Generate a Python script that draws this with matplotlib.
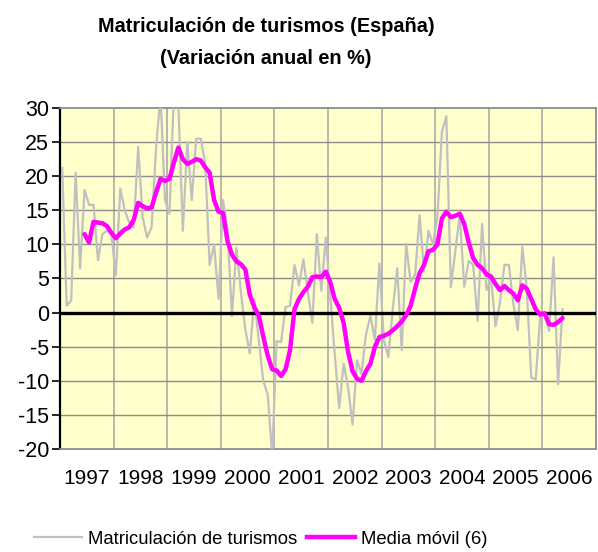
import matplotlib
matplotlib.use('Agg')
import matplotlib.pyplot as plt
import matplotlib.transforms as mtransforms
from matplotlib.lines import Line2D
import numpy as np

plt.rcParams['font.family'] = ['Liberation Sans', 'DejaVu Sans']

# ---------------- data ----------------
years = ['1997', '1998', '1999', '2000', '2001', '2002', '2003', '2004', '2005', '2006']

# Monthly annual variation (%), Jan 1997 .. May 2006
matriculacion = [
    21.2, 1.0, 1.8, 20.5, 6.5, 18.0, 15.8, 15.8, 7.7, 11.5, 12.0, 11.5,      # 1997
    5.5, 18.2, 15.0, 13.2, 12.5, 24.3, 14.0, 11.0, 12.5, 24.0, 32.0, 16.5,   # 1998
    14.5, 32.0, 30.5, 12.0, 25.0, 16.5, 25.5, 25.5, 22.0, 7.0, 10.0, 2.0,    # 1999
    16.5, 12.0, -0.5, 9.5, 3.0, -2.5, -6.0, 2.0, -4.0, -10.0, -12.0, -21.0,  # 2000
    -4.2, -4.3, 0.8, 1.0, 7.0, 4.0, 7.8, 3.0, -1.5, 11.5, 3.2, 11.0,         # 2001
    2.5, -6.0, -14.0, -7.5, -11.0, -16.4, -7.0, -9.0, -3.2, -0.5, -4.0, 7.2, # 2002
    -4.0, -6.5, 0.5, 6.5, -5.5, 10.1, 4.5, 5.5, 14.3, 6.0, 12.0, 10.0,       # 2003
    14.0, 26.5, 28.8, 3.7, 9.0, 14.3, 3.8, 7.6, 7.0, -1.2, 13.0, 3.3,        # 2004
    5.0, -2.0, 1.5, 7.0, 7.0, 1.3, -2.6, 9.7, 3.5, -9.5, -9.8, -0.7,         # 2005
    0.0, -2.7, 8.1, -10.5, 0.5,                                              # 2006
]

# 6-month moving average, starting at month index 5 (Jun 1997)
ma_start = 5
media_movil = [
    11.5, 10.3, 13.3, 13.2, 13.1, 12.7, 11.7,
    10.9, 11.6, 12.2, 12.5, 13.6, 16.1, 15.6, 15.3, 15.4, 17.6, 19.6, 19.3,
    19.6, 22.0, 24.2, 22.5, 21.8, 22.1, 22.5, 22.3, 21.3, 20.5, 16.5, 14.8,
    14.6, 10.5, 8.5, 7.5, 7.1, 6.3, 2.6, 0.8, -0.4, -3.5, -6.3, -8.3,
    -8.5, -9.3, -8.3, -5.5, 0.5, 2.0, 3.0, 3.8, 5.2, 5.3, 5.2, 6.0,
    4.5, 2.0, 0.7, -1.5, -5.8, -8.6, -9.7, -10.0, -8.6, -7.5, -5.0, -3.6,
    -3.4, -3.1, -2.6, -2.0, -1.3, -0.4, 1.0, 3.5, 5.8, 7.0, 9.0, 9.2,
    10.0, 13.8, 14.8, 14.0, 14.2, 14.5, 13.0, 10.3, 8.0, 7.0, 6.5, 5.6,
    5.3, 4.2, 3.3, 3.9, 3.3, 2.8, 1.8, 4.0, 3.5, 2.0, 0.5, -0.3,
    -0.1, -1.7, -1.8, -1.4, -0.8,
]

title_1 = 'Matriculación de turismos (España)'
title_2 = '(Variación anual en %)'
label_gray = 'Matriculación de turismos'
label_ma = 'Media móvil (6)'

# ---------------- figure ----------------
W, H = 598, 552
fig = plt.figure(figsize=(W / 100, H / 100), dpi=100)
fig.patch.set_facecolor('white')

left, right, top, bottom = 60, 596, 108, 449
ax = fig.add_axes([left / W, 1 - bottom / H, (right - left) / W, (bottom - top) / H])
ax.set_facecolor('#FFFFCC')

months_per_year = 12
n_cat = months_per_year * len(years)
x = np.arange(len(matriculacion)) + 0.5
xm = np.arange(ma_start, ma_start + len(media_movil)) + 0.5

ax.set_xlim(0, n_cat)
ax.set_ylim(-20, 30)

for k in range(1, len(years)):
    ax.axvline(k * months_per_year, color='#a4a4a4', lw=1.1, zorder=1)
for v in range(-15, 30, 5):
    if v != 0:
        ax.axhline(v, color='#8c8c8c', lw=1.0, zorder=1)

ax.plot(x, matriculacion, color='#C0C0C0', lw=1.6, zorder=3, solid_joinstyle='round')
ax.axhline(0, color='black', lw=2.4, zorder=4)
ax.plot(xm, media_movil, color='#FF00FF', lw=3.2, zorder=5, solid_joinstyle='round',
        solid_capstyle='round')

# spines
for s in ['top', 'right', 'bottom']:
    ax.spines[s].set_color('#8c8c8c')
    ax.spines[s].set_linewidth(1.3)
ax.spines['left'].set_color('black')
ax.spines['left'].set_linewidth(1.6)

ax.set_yticks(range(-20, 31, 5))
ax.set_yticklabels([str(v) for v in range(-20, 31, 5)], fontsize=15.5)
ax.tick_params(axis='y', length=6, width=1.2, color='black', pad=2)
ax.set_xticks([])

trans = mtransforms.blended_transform_factory(ax.transData, ax.transAxes)
for k, yr in enumerate(years):
    ax.text(k * months_per_year + months_per_year / 2, -(479 - bottom) / (bottom - top), yr,
            transform=trans, ha='center', va='center', fontsize=15)

# title
fig.text(266 / W, 1 - 27 / H, title_1, ha='center', va='center', fontsize=14.3, fontweight='bold')
fig.text(266 / W, 1 - 58 / H, title_2, ha='center', va='center', fontsize=14.3, fontweight='bold')

# legend
handles = [Line2D([], [], color='#C0C0C0', lw=1.6), Line2D([], [], color='#FF00FF', lw=3.2)]
fig.legend(handles, [label_gray, label_ma], loc='center', bbox_to_anchor=(261 / W, 1 - 539 / H),
           ncol=2, frameon=False, fontsize=13.3, handlelength=2.6, handletextpad=0.32,
           columnspacing=0.55, borderaxespad=0, borderpad=0)

fig.savefig('out.png', dpi=100)
